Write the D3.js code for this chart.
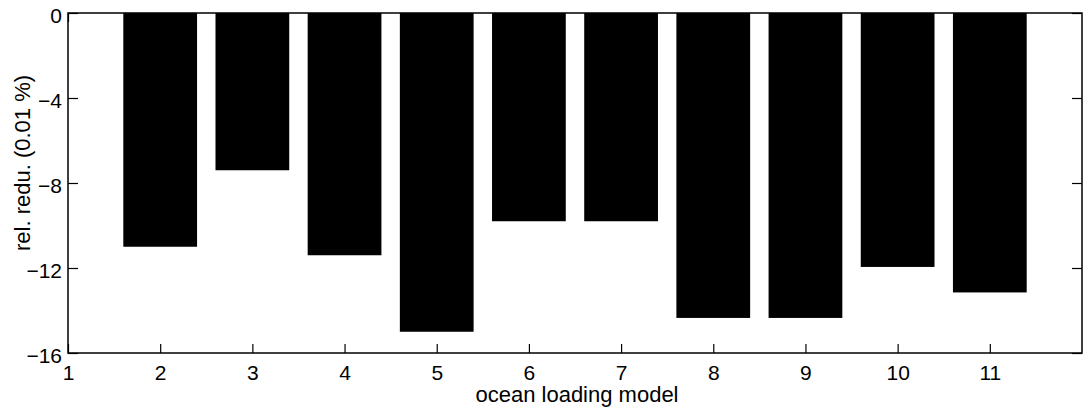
<!DOCTYPE html>
<html>
<head>
<meta charset="utf-8">
<script src="https://cdn.jsdelivr.net/npm/d3@7"></script>
<style>
  html, body { margin: 0; padding: 0; background: #fff; }
  svg { display: block; }
  text { font-family: "Liberation Sans", Arial, Helvetica, sans-serif; fill: #000; }
</style>
</head>
<body>
<svg id="chart" width="1083" height="414"></svg>
<script>
// Ocean loading models and relative reduction (units of 0.01 %)
const models = [2, 3, 4, 5, 6, 7, 8, 9, 10, 11];
const reduction = [-11.0, -7.4, -11.4, -15.0, -9.8, -9.8, -14.35, -14.35, -11.95, -13.15];
const xTicks = [1, 2, 3, 4, 5, 6, 7, 8, 9, 10, 11];
const yTicks = [0, -4, -8, -12, -16];
const xTitle = "ocean loading model";
const yTitle = "rel. redu. (0.01 %)";

const svg = d3.select("#chart");
const plotL = 68, plotR = 1082, plotT = 13, plotB = 353;

const x = d3.scaleLinear().domain([1, 12]).range([plotL, plotR]);
const y = d3.scaleLinear().domain([-16, 0]).range([plotB, plotT]);
const barW = 0.8;

// bars hang down from zero
svg.append("g").selectAll("rect")
  .data(models.map((m, i) => ({ m, v: reduction[i] })))
  .join("rect")
  .attr("x", d => x(d.m - barW / 2))
  .attr("width", d => x(d.m + barW / 2) - x(d.m - barW / 2))
  .attr("y", d => y(0))
  .attr("height", d => y(d.v) - y(0))
  .attr("fill", "#000");

const fmt = d => d < 0 ? "\u2212" + Math.abs(d) : String(d);

// left axis: inward ticks
const yAxisL = svg.append("g").attr("transform", `translate(${plotL},0)`)
  .call(d3.axisLeft(y).tickValues(yTicks).tickSize(-10).tickPadding(6).tickFormat(fmt));
// right axis: inward ticks, no labels
const yAxisR = svg.append("g").attr("transform", `translate(${plotR},0)`)
  .call(d3.axisRight(y).tickValues(yTicks).tickSize(-10).tickFormat(""));
// bottom axis: inward ticks
const xAxisB = svg.append("g").attr("transform", `translate(0,${plotB})`)
  .call(d3.axisBottom(x).tickValues(xTicks).tickSize(-9).tickFormat(d3.format("d")));
// top axis: inward ticks, no labels
const xAxisT = svg.append("g").attr("transform", `translate(0,${plotT})`)
  .call(d3.axisTop(x).tickValues(xTicks).tickSize(-9).tickFormat(""));

[yAxisL, yAxisR, xAxisB, xAxisT].forEach(g => {
  g.select(".domain").remove();
  g.selectAll("line").attr("stroke", "#000").attr("stroke-width", 1.2);
  g.selectAll("text").style("font-size", "21px").attr("fill", "#000");
});
yAxisL.selectAll("text").attr("dy", "0.36em").attr("y", 2);
xAxisB.selectAll("text").attr("dy", null).attr("y", 27);

// frame
svg.append("rect")
  .attr("x", plotL).attr("y", plotT)
  .attr("width", plotR - plotL).attr("height", plotB - plotT)
  .attr("fill", "none").attr("stroke", "#000").attr("stroke-width", 1.5);

// axis titles
svg.append("text")
  .attr("x", (plotL + plotR) / 2 + 2).attr("y", 402)
  .attr("text-anchor", "middle").style("font-size", "22px")
  .text(xTitle);
svg.append("text")
  .attr("transform", `translate(30,163) rotate(-90)`)
  .attr("text-anchor", "middle").style("font-size", "22px")
  .text(yTitle);
</script>
</body>
</html>
